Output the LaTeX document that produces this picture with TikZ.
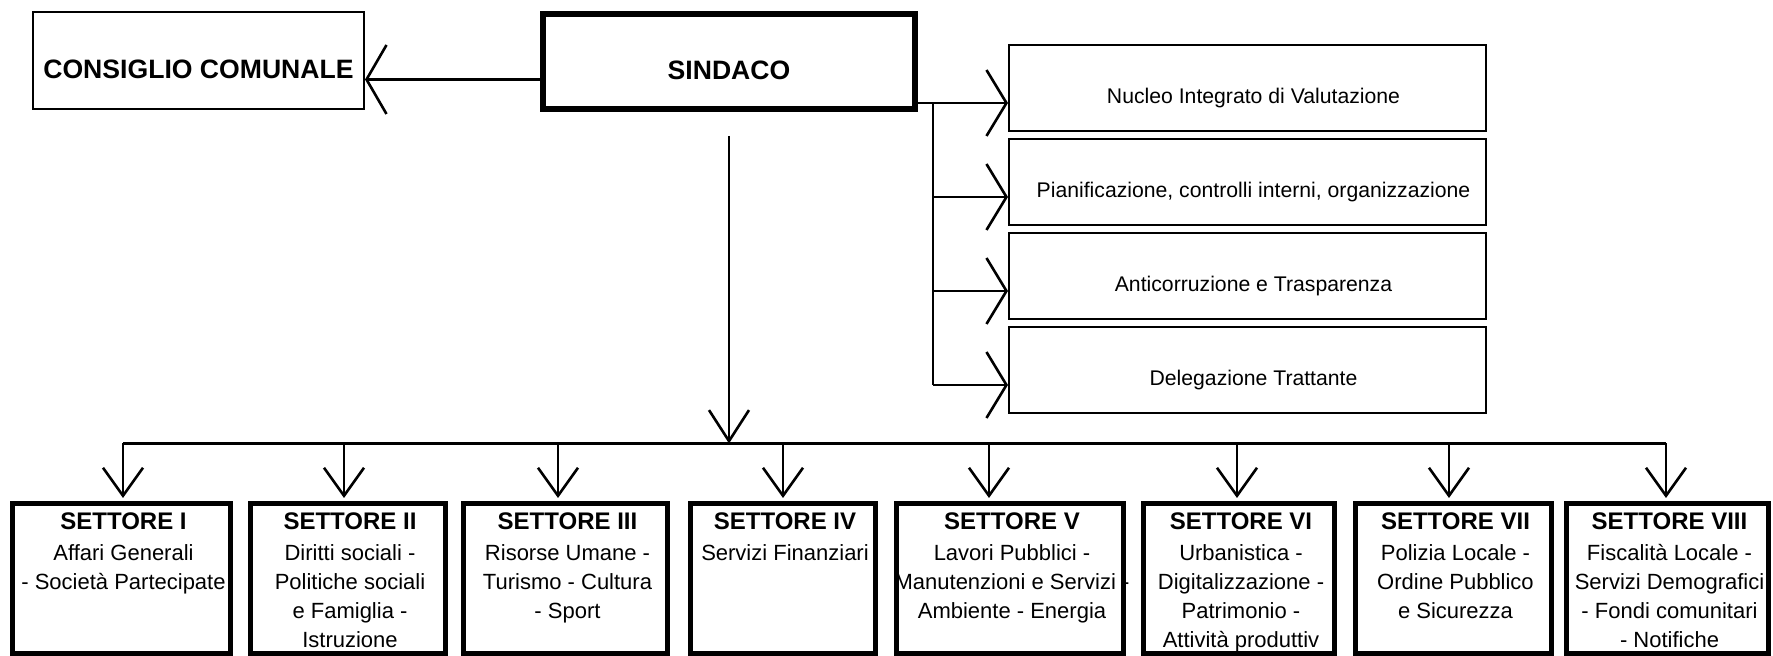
\documentclass[tikz,border=0pt]{standalone}
\usepackage{fontspec}
\setmainfont{Liberation Sans}
\usetikzlibrary{arrows.meta,positioning}

\newcommand{\settitfont}{\fontsize{12}{14.5}\selectfont\bfseries}

\tikzset{
  linea/.style={line width=1.3pt},
  harrow/.style={linea,-{Straight Barb[length=10pt,width=#1]}},
  harrow/.default=33pt,
  varrow/.style={linea,-{Straight Barb[length=#1,width=20pt]}},
  varrow/.default=14pt,
  ccbox/.style={draw,line width=0.8pt,minimum width=165.7pt,minimum height=48.7pt,inner sep=0pt},
  sinbox/.style={draw,line width=3pt,minimum width=186pt,minimum height=47.5pt,inner sep=0pt},
  rbox/.style={draw,line width=1pt,minimum width=238.5pt,minimum height=43pt,inner sep=0pt},
  setbox/.style={draw,line width=2.5pt,minimum height=75pt,inner sep=0pt},
  bigtxt/.style={font=\fontsize{13.3}{16}\selectfont\bfseries,inner sep=0pt},
  smalltxt/.style={font=\fontsize{10.6}{13}\selectfont,inner sep=0pt},
  settxt/.style={font=\fontsize{11}{14.5}\selectfont,align=center,inner sep=0pt,anchor=north}
}

\begin{document}
\begin{tikzpicture}[x=0.5pt,y=-0.5pt]
\useasboundingbox (0,0) rectangle (1773,656);
% vertice
\node[sinbox] (sin) at (729,61.5) {};
\node[bigtxt] (tsin) at ([yshift=-4.5pt]sin.center) {SINDACO};
\node[ccbox] (cc) at (198.5,60.5) {};
\node[bigtxt] (tcc) at ([yshift=-4.5pt]cc.center) {CONSIGLIO COMUNALE};
\draw[harrow=34.5pt] ([yshift=-9pt]sin.west) -- ([yshift=-9pt]sin.west -| cc.east);

% uffici di staff
\node[rbox] (rb1) at (1247.5,88) {};
\node[rbox,below=3pt of rb1] (rb2) {};
\node[rbox,below=3pt of rb2] (rb3) {};
\node[rbox,below=3pt of rb3] (rb4) {};
\foreach \i/\t in {1/Nucleo Integrato di Valutazione,
                   2/{Pianificazione, controlli interni, organizzazione},
                   3/Anticorruzione e Trasparenza,
                   4/Delegazione Trattante}{
  \node[smalltxt] (trb\i) at ([shift={(3pt,-5pt)}]rb\i.center) {\t};
  \coordinate (in\i) at ([yshift=-7.5pt]rb\i.west);
}
\coordinate (tr) at ([xshift=7.5pt]sin.east);
\draw[harrow] (sin.east |- in1) -- (in1);
\draw[linea] (tr |- in1) -- (tr |- in4);
\foreach \i in {2,3,4}
  \draw[harrow] (tr |- in\i) -- (in\i);

% settori
\coordinate (bus) at (0,443.5);
\draw[varrow=15.5pt] ([yshift=-12pt]sin.south) -- (sin.south |- bus);
\foreach \i/\cx/\w/\dx/\tit/\body in {
  1/121.5/109/0.75/SETTORE I/{Affari Generali\\- Società Partecipate},
  2/348/97.5/-2/SETTORE II/{Diritti sociali -\\Politiche sociali\\e Famiglia -\\Istruzione},
  3/565.5/102/-3.75/SETTORE III/{Risorse Umane -\\Turismo - Cultura\\- Sport},
  4/783/92.5/0/SETTORE IV/{Servizi Finanziari},
  5/1010/113.5/-10.5/SETTORE V/{Lavori Pubblici -\\Manutenzioni e Servizi -\\Ambiente - Energia},
  6/1239/95.5/-1/SETTORE VI/{Urbanistica -\\Digitalizzazione -\\Patrimonio -\\Attività produttiv},
  7/1453.5/98/-2.25/SETTORE VII/{Polizia Locale -\\Ordine Pubblico\\e Sicurezza},
  8/1667.5/101/-0.75/SETTORE VIII/{Fiscalità Locale -\\Servizi Demografici\\- Fondi comunitari\\- Notifiche}}{
  \node[setbox,minimum width=\w pt] (s\i) at (\cx,578.5) {};
  \node[settxt] (ts\i) at ([shift={(1pt,-5.5pt)}]s\i.north) {{\settitfont\tit}\\[1pt]\body};
  \draw[varrow,shorten >=1.5pt] ([xshift=\dx pt]s\i.north |- bus) -- ([xshift=\dx pt]s\i.north);
}
\draw[linea] ([xshift=0.75pt]s1.north |- bus) -- ([xshift=-0.75pt]s8.north |- bus);
\end{tikzpicture}
\end{document}
